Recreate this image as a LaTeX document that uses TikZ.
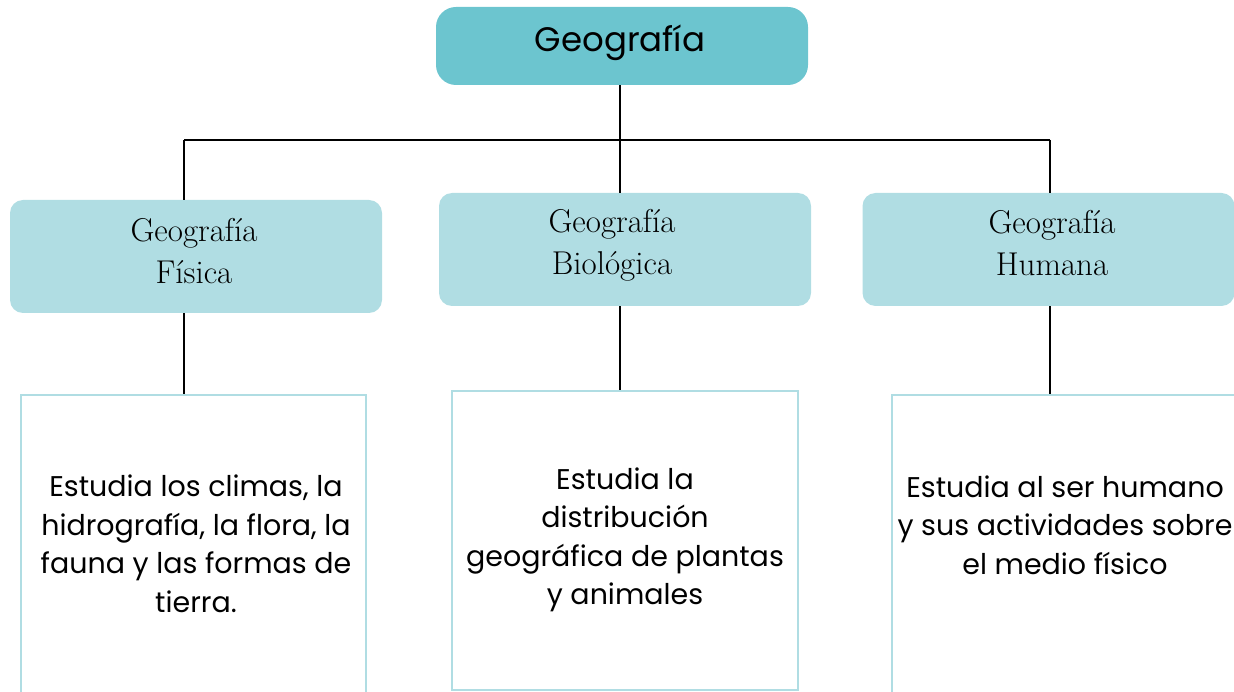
\documentclass[tikz,border=0pt]{standalone}
\usepackage{fontspec}
\newfontfamily\popp{Poppins}
\definecolor{topfill}{HTML}{6CC5CF}
\definecolor{midfill}{HTML}{B0DDE3}
\definecolor{edge}{HTML}{B0DDE3}
\begin{document}
\begin{tikzpicture}[x=1pt,y=-1pt,
  topbox/.style={rectangle,rounded corners=20pt,fill=topfill,draw=none,minimum width=372pt,minimum height=78pt,inner sep=0pt},
  toptext/.style={inner sep=0pt,font=\popp\fontsize{34}{40}\selectfont},
  midbox/.style={rectangle,rounded corners=13pt,fill=midfill,draw=none,minimum width=372pt,minimum height=113pt,inner sep=0pt},
  midtext/.style={align=center,inner sep=0pt,font=\fontsize{33}{42}\selectfont},
  descbox/.style={rectangle,draw=edge,line width=2.5pt,fill=none,inner sep=0pt},
  desctext/.style={align=center,inner sep=0pt,font=\popp\fontsize{28.5}{38.5}\selectfont},
  conn/.style={draw=black,line width=2.2pt}]
\useasboundingbox (0,0) rectangle (1234,692);
\clip (0,0) rectangle (1234,692);
% top
\node[topbox] (geo) at (622,46) {};
\node[toptext] (geot) at (620,43) {Geografía};
% middle
\node[midbox] (fis) at (196,256.5) {};
\node[midbox] (bio) at (625,249.5) {};
\node[midbox] (hum) at (1048.5,249.5) {};
\node[midtext] (fist) at (194,251) {Geografía\\Física};
\node[midtext] (biot) at (612,245) {Geografía\\Biológica};
\node[midtext] (humt) at (1052,243.5) {Geografía\\Humana};
% bottom boxes
\node[descbox,minimum width=345pt,minimum height=315pt] (d1) at (193.5,552.5) {};
\node[descbox,minimum width=346pt,minimum height=299pt] (d2) at (625,540.5) {};
\node[descbox,minimum width=350pt,minimum height=315pt] (d3) at (1067,552.5) {};
\node[desctext] (t1) at (196,544) {Estudia los climas, la\\hidrografía, la flora, la\\fauna y las formas de\\tierra.};
\node[desctext] (t2) at (625,540) {Estudia la\\distribución\\geográfica de plantas\\y animales};
\node[desctext] (t3) at (1065,525) {Estudia al ser humano\\y sus actividades sobre\\el medio físico};
% connectors
\coordinate (jL) at (184,140);
\coordinate (jR) at (1050,140);
\coordinate (jM) at (620,140);
\draw[conn] (jL) -- (jR);
\draw[conn] (geo.south -| jM) -- (jM);
\draw[conn] (jL) -- (jL |- fis.north);
\draw[conn] (jM) -- (jM |- bio.north);
\draw[conn] (jR) -- (jR |- hum.north);
\draw[conn] (jL |- fis.south) -- (jL |- d1.north);
\draw[conn] (jM |- bio.south) -- (jM |- d2.north);
\draw[conn] (jR |- hum.south) -- (jR |- d3.north);
\end{tikzpicture}
\end{document}
